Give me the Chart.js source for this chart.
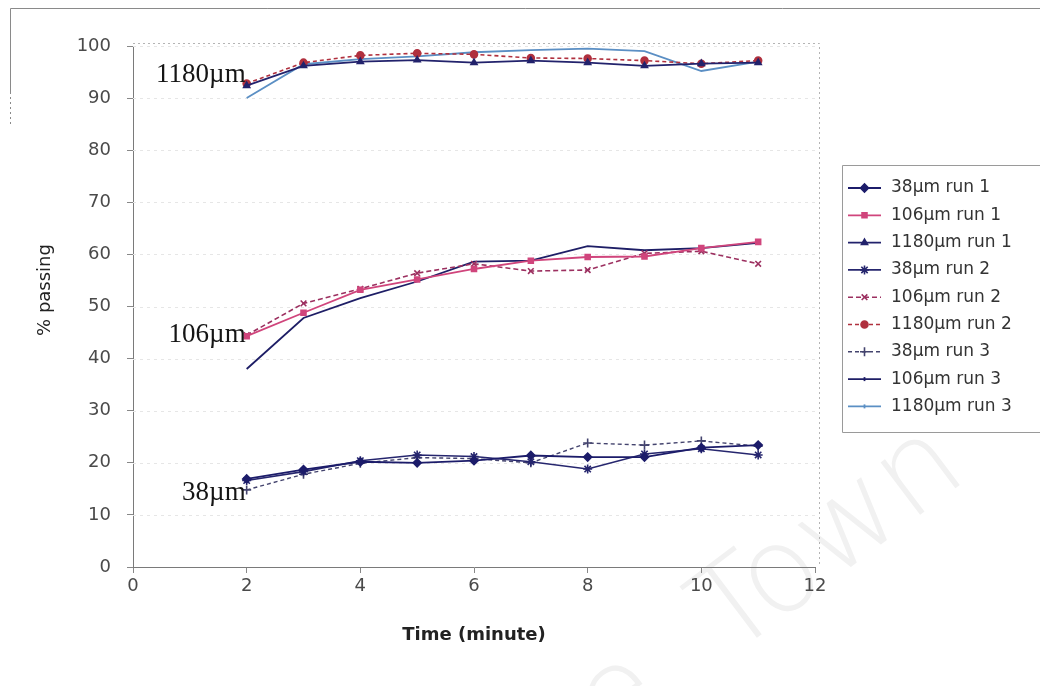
<!DOCTYPE html>
<html>
<head>
<meta charset="utf-8">
<script src="https://cdn.jsdelivr.net/npm/chart.js@4.4.1/dist/chart.umd.min.js"></script>
<style>
  html, body { margin: 0; padding: 0; background: #ffffff; }
  #wrap { position: relative; width: 1040px; height: 686px; }
</style>
</head>
<body>
<div id="wrap"><canvas id="chart" width="1040" height="686"></canvas></div>
<script>
// Sampling times (minutes)
const times = [2, 3, 4, 5, 6, 7, 8, 9, 10, 11];

// % passing for each sieve size and run
const pass38run1   = [16.9, 18.7, 20.2, 20.0, 20.4, 21.4, 21.1, 21.1, 22.9, 23.4];
const pass106run1  = [44.3, 48.8, 53.2, 55.2, 57.2, 58.8, 59.5, 59.6, 61.2, 62.4];
const pass1180run1 = [92.4, 96.2, 97.0, 97.3, 96.8, 97.2, 96.8, 96.2, 96.6, 96.8];
const pass38run2   = [16.6, 18.3, 20.4, 21.5, 21.2, 20.2, 18.8, 21.7, 22.7, 21.5];
const pass106run2  = [44.5, 50.6, 53.4, 56.4, 58.2, 56.8, 57.0, 60.2, 60.6, 58.2];
const pass1180run2 = [92.8, 96.8, 98.2, 98.6, 98.4, 97.7, 97.6, 97.2, 96.6, 97.2];
const pass38run3   = [14.8, 17.8, 19.9, 21.0, 20.8, 20.0, 23.8, 23.4, 24.2, 23.2];
const pass106run3  = [38.0, 47.8, 51.6, 54.8, 58.6, 58.8, 61.6, 60.8, 61.2, 62.2];
const pass1180run3 = [90.0, 96.5, 97.5, 98.0, 98.8, 99.2, 99.5, 99.0, 95.2, 97.0];

const seriesNames = [
  '38µm run 1', '106µm run 1', '1180µm run 1',
  '38µm run 2', '106µm run 2', '1180µm run 2',
  '38µm run 3', '106µm run 3', '1180µm run 3'
];
const seriesValues = [
  pass38run1, pass106run1, pass1180run1,
  pass38run2, pass106run2, pass1180run2,
  pass38run3, pass106run3, pass1180run3
];

// Axis ticks
const xTickValues = [0, 2, 4, 6, 8, 10, 12];
const yTickValues = [0, 10, 20, 30, 40, 50, 60, 70, 80, 90, 100];

// Size-class captions placed beside the first reading of each group
const sizeCaptions = ['1180µm', '106µm', '38µm'];
const sizeCaptionLevels = [94.4, 44.5, 14.2];

// Line / marker look for each series (same order as seriesNames)
const seriesStyles = [
  { color: '#1c1c6a', dash: [],     width: 1.8, point: 'rectRot',  radius: 4   },
  { color: '#d0457c', dash: [],     width: 1.8, point: 'rect',     radius: 3.5 },
  { color: '#22226c', dash: [],     width: 1.8, point: 'triangle', radius: 3.5 },
  { color: '#26266e', dash: [],     width: 1.6, point: 'star',     radius: 4.5 },
  { color: '#9c3060', dash: [5, 3], width: 1.6, point: 'crossRot', radius: 4   },
  { color: '#b0303e', dash: [4, 3], width: 1.6, point: 'circle',   radius: 3.5 },
  { color: '#44446e', dash: [4, 3], width: 1.4, point: 'cross',    radius: 4.5 },
  { color: '#1e1e66', dash: [],     width: 1.8, point: 'line',     radius: 0   },
  { color: '#5b8fc4', dash: [],     width: 1.8, point: 'line',     radius: 0   }
];

const datasets = seriesNames.map((name, i) => {
  const st = seriesStyles[i];
  return {
    label: name,
    data: times.map((t, k) => ({ x: t, y: seriesValues[i][k] })),
    borderColor: st.color,
    backgroundColor: st.color,
    borderWidth: st.width,
    borderDash: st.dash,
    pointStyle: st.point,
    pointRadius: st.radius,
    pointBorderWidth: 1.6,
    pointBorderColor: st.color,
    pointBackgroundColor: st.color,
    tension: 0,
    fill: false
  };
});

const TICK_FONT = { family: '"DejaVu Sans", sans-serif', size: 18 };

// Page furniture: frame, faint grid, plot border, captions, axis titles, legend
const furniture = {
  id: 'furniture',
  beforeDraw(chart) {
    const ctx = chart.ctx;
    ctx.save();
    ctx.fillStyle = '#ffffff';
    ctx.fillRect(0, 0, chart.width, chart.height);

    // faint background lettering
    ctx.translate(730, 658);
    ctx.rotate(-37 * Math.PI / 180);
    ctx.fillStyle = '#f1f1f1';
    ctx.font = '200 120px "DejaVu Sans", sans-serif';
    ctx.textBaseline = 'alphabetic';
    ctx.textAlign = 'left';
    ctx.fillText('Town', 0, 0);
    ctx.textAlign = 'right';
    ctx.fillText('Cape  ', 0, 0);
    ctx.restore();

    // outer frame (top and left edges)
    ctx.save();
    ctx.strokeStyle = '#8a8a8a';
    ctx.lineWidth = 1;
    ctx.beginPath();
    ctx.moveTo(10.5, 92); ctx.lineTo(10.5, 8.5); ctx.lineTo(1040, 8.5);
    ctx.stroke();
    ctx.setLineDash([2, 3]);
    ctx.beginPath();
    ctx.moveTo(10.5, 92); ctx.lineTo(10.5, 126);
    ctx.stroke();
    ctx.restore();
  },
  beforeDatasetsDraw(chart) {
    const { ctx, chartArea: a, scales } = chart;
    ctx.save();
    ctx.lineWidth = 1;
    ctx.strokeStyle = '#e6e6e6';
    ctx.setLineDash([3, 4]);
    yTickValues.forEach(v => {
      if (v === 0) return;
      const y = Math.round(scales.y.getPixelForValue(v)) + 0.5;
      ctx.beginPath(); ctx.moveTo(a.left, y); ctx.lineTo(a.right, y); ctx.stroke();
    });
    ctx.strokeStyle = '#b4b4b4';
    ctx.setLineDash([2, 3]);
    ctx.beginPath();
    ctx.moveTo(a.left, a.top - 2.5); ctx.lineTo(a.right + 4.5, a.top - 2.5); ctx.lineTo(a.right + 4.5, a.bottom);
    ctx.stroke();
    ctx.restore();
  },
  afterDraw(chart) {
    const { ctx, chartArea: a, scales } = chart;
    ctx.save();

    // size-class captions
    ctx.fillStyle = '#151515';
    ctx.font = '27px "Liberation Serif", serif';
    ctx.textAlign = 'right';
    ctx.textBaseline = 'middle';
    const xCap = scales.x.getPixelForValue(times[0]) - 1;
    sizeCaptions.forEach((txt, i) => {
      ctx.fillText(txt, xCap, scales.y.getPixelForValue(sizeCaptionLevels[i]));
    });

    // axis titles
    ctx.fillStyle = '#222222';
    ctx.textAlign = 'center';
    ctx.font = 'bold 18px "DejaVu Sans", sans-serif';
    ctx.fillText('Time (minute)', (a.left + a.right) / 2, 635);
    ctx.font = '18px "DejaVu Sans", sans-serif';
    ctx.save();
    ctx.translate(45, 290);
    ctx.rotate(-Math.PI / 2);
    ctx.fillText('% passing', 0, 0);
    ctx.restore();

    // legend
    const lx = 842.5, top = 165.5, bottom = 432.5;
    ctx.strokeStyle = '#9a9a9a';
    ctx.lineWidth = 1;
    ctx.beginPath();
    ctx.moveTo(1041, top); ctx.lineTo(lx, top); ctx.lineTo(lx, bottom); ctx.lineTo(1041, bottom);
    ctx.stroke();

    ctx.font = '17px "DejaVu Sans", sans-serif';
    ctx.textAlign = 'left';
    ctx.textBaseline = 'middle';
    chart.data.datasets.forEach((ds, i) => {
      const y = 188 + i * 27.3;
      ctx.save();
      ctx.strokeStyle = ds.borderColor;
      ctx.lineWidth = ds.borderWidth;
      ctx.setLineDash(ds.borderDash || []);
      ctx.beginPath(); ctx.moveTo(848, y); ctx.lineTo(881, y); ctx.stroke();
      ctx.setLineDash([]);
      if (ds.pointRadius > 0) {
        ctx.lineWidth = ds.pointBorderWidth;
        ctx.fillStyle = ds.pointBackgroundColor;
        ctx.strokeStyle = ds.pointBorderColor;
        Chart.helpers.drawPoint(ctx, {
          pointStyle: ds.pointStyle, radius: ds.pointRadius, rotation: 0, borderWidth: ds.pointBorderWidth
        }, 864.5, y);
      } else {
        ctx.beginPath(); ctx.moveTo(864.5, y - 2); ctx.lineTo(864.5, y + 2); ctx.stroke();
      }
      ctx.restore();
      ctx.fillStyle = '#333333';
      ctx.fillText(ds.label, 891, y);
    });
    ctx.restore();
  }
};

new Chart(document.getElementById('chart'), {
  type: 'line',
  data: { datasets },
  plugins: [furniture],
  options: {
    responsive: false,
    animation: false,
    devicePixelRatio: 1,
    layout: { padding: { left: 0, top: 46, right: 225, bottom: 0 } },
    plugins: { legend: { display: false }, tooltip: { enabled: false } },
    elements: { line: { borderCapStyle: 'butt' } },
    scales: {
      x: {
        type: 'linear',
        min: 0, max: 12,
        afterBuildTicks: s => { s.ticks = xTickValues.map(v => ({ value: v })); },
        ticks: { font: TICK_FONT, color: '#4a4a4a', padding: 3 },
        grid: { drawOnChartArea: false, tickLength: 6, tickColor: '#888888' },
        border: { color: '#7a7a7a', width: 1 },
        afterFit: s => { s.height = 119; s.paddingLeft = 0; s.paddingRight = 0; }
      },
      y: {
        type: 'linear',
        min: 0, max: 100,
        afterBuildTicks: s => { s.ticks = yTickValues.map(v => ({ value: v })); },
        ticks: { font: TICK_FONT, color: '#4a4a4a', padding: 16 },
        grid: { drawOnChartArea: false, tickLength: 6, tickColor: '#888888' },
        border: { color: '#7a7a7a', width: 1 },
        afterFit: s => { s.width = 133; s.paddingTop = 0; s.paddingBottom = 0; }
      }
    }
  }
});
</script>
</body>
</html>
